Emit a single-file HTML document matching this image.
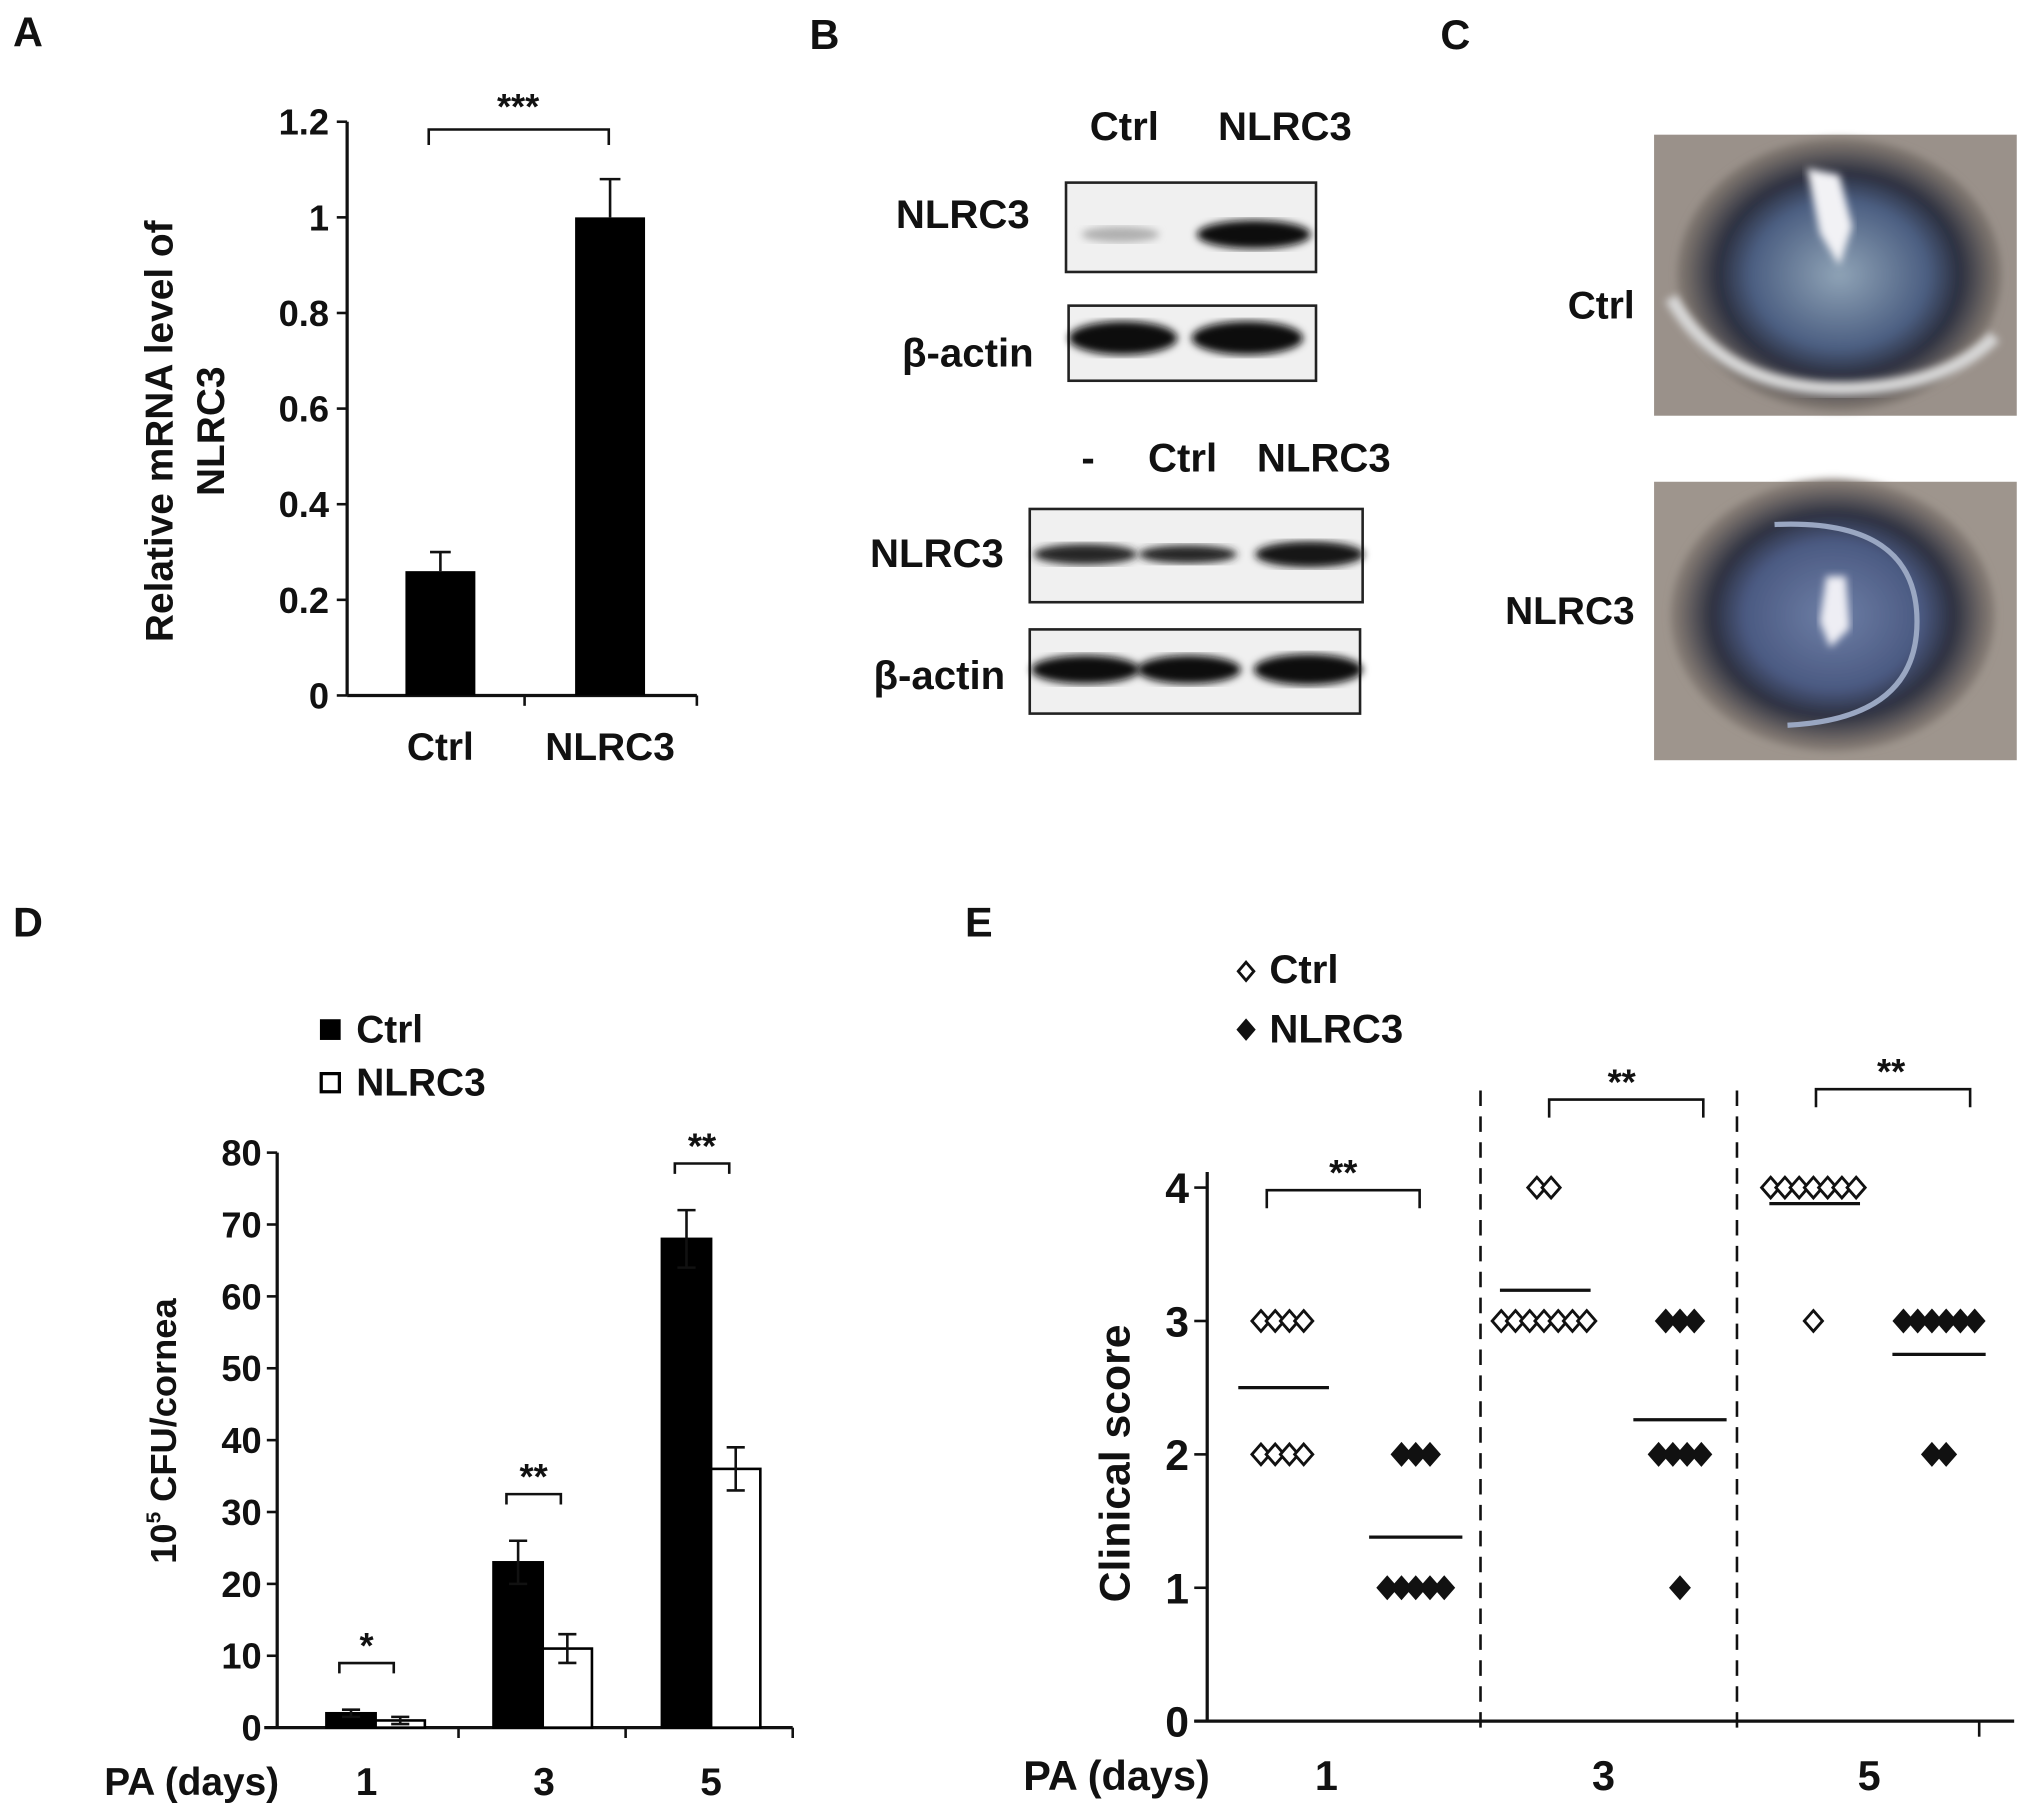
<!DOCTYPE html>
<html><head><meta charset="utf-8"><style>
html,body{margin:0;padding:0;background:#fff}
svg{display:block}
text{font-family:"Liberation Sans",sans-serif;font-weight:bold;fill:#111}
</style></head><body>
<svg id="fig" width="2031" height="1817" viewBox="0 0 1568 1403" preserveAspectRatio="none" xmlns="http://www.w3.org/2000/svg">
<defs>
<radialGradient id="eye1" cx="0.5" cy="0.5" r="0.6">
<stop offset="0" stop-color="#8fa3b6"/><stop offset="0.45" stop-color="#4c5f82"/><stop offset="0.62" stop-color="#2b2f3f"/><stop offset="0.8" stop-color="#7a726c"/><stop offset="1" stop-color="#9d948c"/></radialGradient>
<radialGradient id="eye2" cx="0.5" cy="0.5" r="0.6">
<stop offset="0" stop-color="#6e7fa6"/><stop offset="0.45" stop-color="#4b5a82"/><stop offset="0.62" stop-color="#2c3040"/><stop offset="0.8" stop-color="#7f7670"/><stop offset="1" stop-color="#a59b92"/></radialGradient>
<filter id="blur"><feGaussianBlur stdDeviation="3"/></filter>
</defs>
<g id="labels" font-size="32">
<text x="10" y="36">A</text>
<text x="625" y="38">B</text>
<text x="1112" y="38">C</text>
<text x="10" y="723">D</text>
<text x="745" y="723">E</text>
</g>
<g id="panelA"></g>
<g id="panelB"></g>
<g id="panelC">
<text x="1262" y="246" font-size="30" text-anchor="end">Ctrl</text>
<text x="1262" y="482" font-size="30" text-anchor="end">NLRC3</text>
<g>
<rect x="1277" y="104" width="280" height="217" fill="#9a918a"/>
<ellipse cx="1420" cy="212" rx="125" ry="105" fill="url(#eye1)" filter="url(#blur)"/>
<path d="M1290 230 Q1330 300 1420 300 Q1500 300 1540 260" stroke="#d8d8d8" stroke-width="10" fill="none" filter="url(#blur)"/>
<path d="M1395 130 l25 5 l10 40 l-10 30 l-15 -25 z" fill="#f2f2f5" filter="url(#blur)"/>
</g>
<g>
<rect x="1277" y="372" width="280" height="215" fill="#9e958d"/>
<ellipse cx="1415" cy="475" rx="125" ry="105" fill="url(#eye2)" filter="url(#blur)"/>
<path d="M1370 405 Q1480 400 1480 480 Q1480 555 1380 560" stroke="#9aa7c2" stroke-width="4" fill="none"/>
<path d="M1410 445 l15 0 l3 40 l-15 15 l-8 -20 z" fill="#eeeef4" filter="url(#blur)"/>
</g>
</g>
<g id="panelD"></g>
<g id="panelE"></g>
</svg>
<script>
// ---------- data ----------
const aCategories = ["Ctrl", "NLRC3"];
const aValues = [0.26, 1.0];
const aErrors = [0.04, 0.08];
const aTicks = [0, 0.2, 0.4, 0.6, 0.8, 1, 1.2];
const aTickLabels = ["0", "0.2", "0.4", "0.6", "0.8", "1", "1.2"];

const dDays = ["1", "3", "5"];
const dCtrl = [2, 23, 68];
const dCtrlErr = [0.5, 3, 4];
const dNlrc3 = [1, 11, 36];
const dNlrc3Err = [0.5, 2, 3];
const dStars = ["*", "**", "**"];
const dTicks = [0, 10, 20, 30, 40, 50, 60, 70, 80];

const eDays = ["1", "3", "5"];
const eCtrlScores = [[3,3,3,3,2,2,2,2],[4,4,3,3,3,3,3,3,3],[4,4,4,4,4,4,4,3]];
const eNlrc3Scores = [[2,2,2,1,1,1,1,1],[3,3,3,2,2,2,2,1],[3,3,3,3,3,3,2,2]];
const eCtrlMeans = [2.5, 3.23, 3.88];
const eNlrc3Means = [1.38, 2.26, 2.75];
const eTicks = [0, 1, 2, 3, 4];

const NS = "http://www.w3.org/2000/svg";
function mk(parent, tag, attrs, txt){
  const e = document.createElementNS(NS, tag);
  for (const k in attrs) e.setAttribute(k, attrs[k]);
  if (txt !== undefined) e.textContent = txt;
  parent.appendChild(e); return e;
}
function line(p,x1,y1,x2,y2,w,extra){return mk(p,"line",Object.assign({x1,y1,x2,y2,stroke:"#111","stroke-width":w||2},extra||{}));}

// ---------- Panel A ----------
(function(){
  const g = document.getElementById("panelA");
  const x0 = 268, y0 = 537, yTop = 94, yMax = 1.2;
  const ys = v => y0 - (v / yMax) * (y0 - yTop);
  const cx = [340, 471], bw = 54;
  let ax = line(g, x0, yTop, x0, y0, 2.5);
   
  let bx = line(g, x0, y0, 538, y0, 2.5);
   
  aTicks.forEach((t,i)=>{
    line(g, x0-8, ys(t), x0, ys(t), 2);
    const tx = mk(g,"text",{x:x0-14,y:ys(t)+10,"font-size":28,"text-anchor":"end"},aTickLabels[i]);
     
  });
  line(g, 405, y0, 405, y0+8, 2); line(g, 538, y0, 538, y0+8, 2);
  aValues.forEach((v,i)=>{
    const r = mk(g,"rect",{x:cx[i]-bw/2,y:ys(v),width:bw,height:y0-ys(v),fill:"#000"});
     
    const top = ys(v+aErrors[i]);
    line(g, cx[i], ys(v), cx[i], top, 2); line(g, cx[i]-8, top, cx[i]+8, top, 2);
    const l = mk(g,"text",{x:cx[i],y:587,"font-size":30,"text-anchor":"middle"},aCategories[i]);
     
  });
  mk(g,"path",{d:"M331 112 V100 H470 V112",fill:"none",stroke:"#111","stroke-width":2});
  const s = mk(g,"text",{x:400,y:92,"font-size":28,"text-anchor":"middle"},"***");
   
  const t = mk(g,"text",{transform:"translate(133,333) rotate(-90)","font-size":30,"text-anchor":"middle"});
   
  mk(t,"tspan",{x:0,y:0},"Relative mRNA level of");
  mk(t,"tspan",{x:0,y:40},"NLRC3");
})();

// ---------- Panel B ----------
(function(){
  const g = document.getElementById("panelB");
  function lab(x,y,s,anchor,name){const t=mk(g,"text",{x,y,"font-size":31,"text-anchor":anchor||"middle"},s);}
  lab(868,108,"Ctrl","middle","blot1-lane-ctrl"); lab(992,108,"NLRC3","middle","blot1-lane-nlrc3");
  lab(795,176,"NLRC3","end","blot1-nlrc3-label"); lab(798,283,"β-actin","end","blot1-actin-label");
  lab(840,364,"-","middle","blot2-lane-blank"); lab(913,364,"Ctrl","middle","blot2-lane-ctrl"); lab(1022,364,"NLRC3","middle","blot2-lane-nlrc3");
  lab(775,438,"NLRC3","end","blot2-nlrc3-label"); lab(776,532,"β-actin","end","blot2-actin-label");
  function box(x,y,w,h,bands,name){
    const b = mk(g,"g",{});
     
    mk(b,"rect",{x,y,width:w,height:h,fill:"#f0f0f0",stroke:"#222","stroke-width":2});
    bands.forEach(bd=>mk(b,"ellipse",{cx:bd[0],cy:bd[1],rx:bd[2],ry:bd[3],fill:bd[4],filter:"url(#blur)"}));
  }
  box(823,141,193,69,[[865,181,30,6,"#b0b0b0"],[968,181,44,11,"#111"]],"blot1-nlrc3-box");
  box(825,236,191,58,[[867,261,42,13,"#0a0a0a"],[963,261,43,13,"#0a0a0a"]],"blot1-actin-box");
  box(795,393,257,72,[[838,428,40,8,"#262626"],[917,428,38,7,"#262626"],[1011,428,42,10,"#151515"]],"blot2-nlrc3-box");
  box(795,486,255,65,[[838,517,42,11,"#0a0a0a"],[918,517,40,11,"#0a0a0a"],[1010,517,42,12,"#0a0a0a"]],"blot2-actin-box");
})();

// ---------- Panel D ----------
(function(){
  const g = document.getElementById("panelD");
  const x0 = 214, y0 = 1334, yTop = 890, yMax = 80;
  const ys = v => y0 - (v / yMax) * (y0 - yTop);
  const centers = [290, 419, 549], bw = 38;
  let a1 = line(g, x0, yTop, x0, y0, 2.5);  
  let a2 = line(g, 204, y0, 612, y0, 2.5);  
  dTicks.forEach(t=>{
    line(g, x0-8, ys(t), x0, ys(t), 2);
    const tx = mk(g,"text",{x:x0-12,y:ys(t)+10,"font-size":28,"text-anchor":"end"},String(t));
     
  });
  [354,483,612].forEach(x=>line(g,x,y0,x,y0+8,2));
  dDays.forEach((d,i)=>{
    const c = centers[i];
    const r1 = mk(g,"rect",{x:c-bw,y:ys(dCtrl[i]),width:bw,height:y0-ys(dCtrl[i]),fill:"#000",stroke:"#000","stroke-width":2});
     
    const r2 = mk(g,"rect",{x:c,y:ys(dNlrc3[i]),width:bw,height:y0-ys(dNlrc3[i]),fill:"#fff",stroke:"#000","stroke-width":2});
     
    [[c-bw/2,dCtrl[i],dCtrlErr[i]],[c+bw/2,dNlrc3[i],dNlrc3Err[i]]].forEach(e=>{
      const t=ys(e[1]+e[2]), b=ys(e[1]-e[2]);
      line(g,e[0],t,e[0],b,2); line(g,e[0]-7,t,e[0]+7,t,2); line(g,e[0]-7,b,e[0]+7,b,2);
    });
    const top = ys(dCtrl[i]+dCtrlErr[i]) - 36;
    mk(g,"path",{d:`M${c-28} ${top+8} V${top} H${c+14} V${top+8}`,fill:"none",stroke:"#111","stroke-width":2});
    const st = mk(g,"text",{x:c-7,y:top-4,"font-size":28,"text-anchor":"middle"},dStars[i]);
     
    const lx = mk(g,"text",{x:[283,420,549][i],y:1386,"font-size":30,"text-anchor":"middle"},d);
     
  });
  const pa = mk(g,"text",{x:148,y:1386,"font-size":30,"text-anchor":"middle"},"PA (days)");
   
  const yt = mk(g,"text",{transform:"translate(136,1105) rotate(-90)","font-size":28,"text-anchor":"middle"});
   
  mk(yt,"tspan",{},"10"); mk(yt,"tspan",{"font-size":16,dy:-12},"5"); mk(yt,"tspan",{dy:12}," CFU/cornea");
  const lg = mk(g,"g",{});  
  mk(lg,"rect",{x:247,y:787,width:16,height:16,fill:"#000"});
  mk(lg,"text",{x:275,y:805,"font-size":30},"Ctrl");
  mk(lg,"rect",{x:248,y:829,width:14,height:14,fill:"#fff",stroke:"#000","stroke-width":2.5});
  mk(lg,"text",{x:275,y:846,"font-size":30},"NLRC3");
})();

// ---------- Panel E ----------
(function(){
  const g = document.getElementById("panelE");
  const x0 = 932, y0 = 1329, yTop = 917, yMax = 4;
  const ys = v => y0 - (v / yMax) * (y0 - yTop);
  const ctrlX = [990, 1192, 1400], nlX = [1093, 1297, 1497];
  let a1 = line(g, x0, 905, x0, y0, 2.5);  
  let a2 = line(g, 922, y0, 1555, y0, 2.5);  
  eTicks.forEach(t=>{
    line(g, x0-10, ys(t), x0, ys(t), 2);
    const tx = mk(g,"text",{x:x0-14,y:ys(t)+12,"font-size":33,"text-anchor":"end"},String(t));
     
  });
  [1143,1341].forEach(x=>{
    const d = line(g,x,842,x,y0+12,2,{"stroke-dasharray":"12 8"});
     
  });
  line(g,1528,y0,1528,y0+12,2);
  function diamond(x,y,filled){
    return mk(g,"path",{d:`M${x} ${y-8} L${x+7} ${y} L${x} ${y+8} L${x-7} ${y} Z`,fill:filled?"#111":"#fff",stroke:"#111","stroke-width":2.2});
  }
  function plotGroup(scores, cx, filled, name){
    const counts = {};
    scores.forEach(s=>counts[s]=(counts[s]||0)+1);
    const seen = {};
    scores.forEach(s=>{
      const n = counts[s], k = (seen[s]=(seen[s]||0)+1)-1;
      const step = Math.min(11, 70/Math.max(n-1,1));
      const x = cx + (k - (n-1)/2) * step;
      const p = diamond(x, ys(s), filled);
       
    });
  }
  eDays.forEach((d,i)=>{
    plotGroup(eCtrlScores[i], ctrlX[i], false, 'e-point-ctrl-day'+d);
    plotGroup(eNlrc3Scores[i], nlX[i], true, 'e-point-nlrc3-day'+d);
    const m1 = line(g, ctrlX[i]-34, ys(eCtrlMeans[i]), ctrlX[i]+36, ys(eCtrlMeans[i]), 2.5);
     
    const m2 = line(g, nlX[i]-36, ys(eNlrc3Means[i]), nlX[i]+36, ys(eNlrc3Means[i]), 2.5);
     
    const lx = mk(g,"text",{x:[1024,1238,1443][i],y:1382,"font-size":32,"text-anchor":"middle"},d);
     
  });
  [[978,1096,919,1037],[1196,1315,849,1252],[1402,1521,841,1460]].forEach(b=>{
    mk(g,"path",{d:`M${b[0]} ${b[2]+14} V${b[2]} H${b[1]} V${b[2]+14}`,fill:"none",stroke:"#111","stroke-width":2});
    const st = mk(g,"text",{x:b[3],y:b[2]-4,"font-size":28,"text-anchor":"middle"},"**");
     
  });
  const pa = mk(g,"text",{x:862,y:1382,"font-size":32,"text-anchor":"middle"},"PA (days)");
   
  const yt = mk(g,"text",{transform:"translate(872,1130) rotate(-90)","font-size":33,"text-anchor":"middle"},"Clinical score");
   
  const lg = mk(g,"g",{});  
  mk(lg,"path",{d:"M962 743 L968 750 L962 757 L956 750 Z",fill:"#fff",stroke:"#111","stroke-width":2.2});
  mk(lg,"text",{x:980,y:759,"font-size":31},"Ctrl");
  mk(lg,"path",{d:"M962 788 L968 795 L962 802 L956 795 Z",fill:"#111",stroke:"#111","stroke-width":2.2});
  mk(lg,"text",{x:980,y:805,"font-size":31},"NLRC3");
})();
</script>
</body></html>
